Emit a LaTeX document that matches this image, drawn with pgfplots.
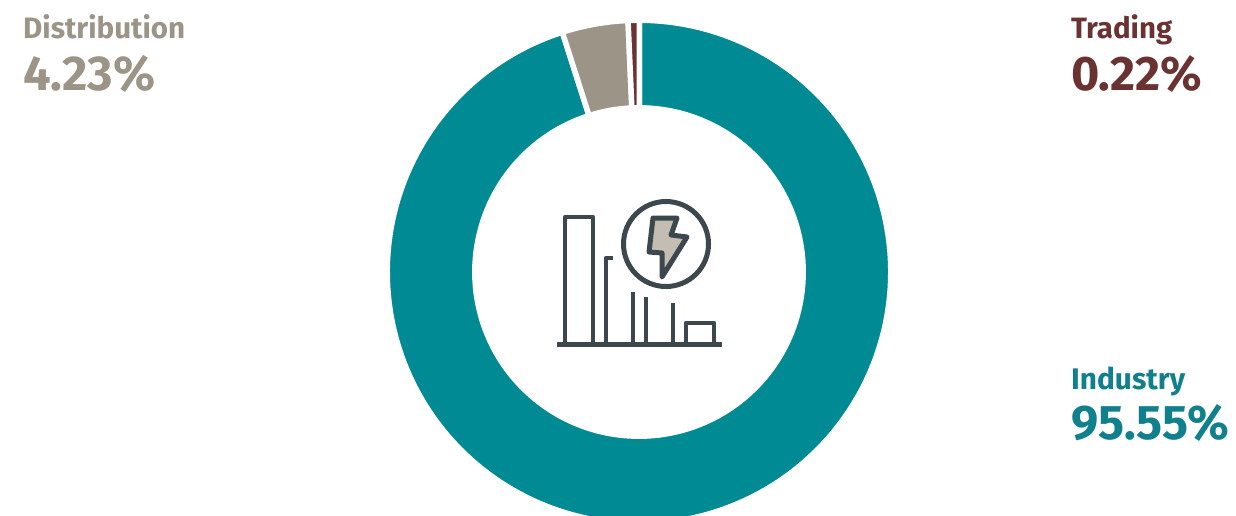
\documentclass[border=0pt]{standalone}
\usepackage{pgfplots}
\usepackage{pgfplotstable}
\usepackage{fontspec}
\pgfplotsset{compat=1.18}
\setmainfont{Fira Sans}
\newfontfamily\headfont[LetterSpace=0,Numbers=Lining]{Fira Sans}

\definecolor{industry}{HTML}{008A94}
\definecolor{industrytext}{HTML}{0F808C}
\definecolor{distribution}{HTML}{9C9486}
\definecolor{trading}{HTML}{6B3232}
\definecolor{icondark}{HTML}{3C474E}
\definecolor{iconfill}{HTML}{C4BDB2}

% Share of each segment, in drawing order (clockwise from the top)
\pgfplotstableread[col sep=space]{
name         value
industry     95.55
distribution 4.23
trading      0.22
}\sharetable

% Ring geometry, in canvas units; the white outline trims it by half its width
\def\cx{639}\def\cy{272}
\def\rout{251.8}\def\rin{164.2}
\def\gapwidth{5.5}
\def\startangle{0.1}
% Smallest sweep a segment may have; the largest segment gives up the difference
\def\minsweep{2.6}

% Fills the ring segment that starts at #2 degrees and sweeps #3 degrees
\newcommand\ringsegment[3]{%
  \pgfmathtruncatemacro\nsteps{ceil(#3/2)}%
  \pgfmathsetmacro\stepang{#3/\nsteps}%
  \gdef\ringpts{}%
  \foreach \i in {0,...,\nsteps}{%
    \pgfmathsetmacro\ang{#2+\stepang*\i}%
    \pgfmathsetmacro\px{\cx+\rout*sin(\ang)}%
    \pgfmathsetmacro\py{\cy-\rout*cos(\ang)}%
    \xdef\ringpts{\ringpts (\px,\py)}%
  }%
  \foreach \i in {\nsteps,...,0}{%
    \pgfmathsetmacro\ang{#2+\stepang*\i}%
    \pgfmathsetmacro\px{\cx+\rin*sin(\ang)}%
    \pgfmathsetmacro\py{\cy-\rin*cos(\ang)}%
    \xdef\ringpts{\ringpts (\px,\py)}%
  }%
  \edef\segcmd{\noexpand\addplot[mark=none,fill=#1,draw=white,line width=\gapwidth pt,line join=round]
    coordinates {\ringpts} -- cycle;}%
  \segcmd
}

% Label set to a fixed width so that every line ends where it should
\newcommand\seglabel[6]{% x, baseline, width, colour, size, text
  \node[anchor=base west,inner sep=0pt,text=#4] at (#1,#2)
    {\resizebox{#3pt}{!}{\headfont\bfseries\fontsize{#5}{#5}\selectfont #6}};%
}

\begin{document}
\begin{tikzpicture}
\begin{axis}[
  scale only axis, width=1236pt, height=515pt,
  xmin=0, xmax=1236, ymin=0, ymax=515, y dir=reverse,
  hide axis, clip=true,
]
  \pgfplotstablegetelem{0}{value}\of\sharetable \let\vone\pgfplotsretval
  \pgfplotstablegetelem{1}{value}\of\sharetable \let\vtwo\pgfplotsretval
  \pgfplotstablegetelem{2}{value}\of\sharetable \let\vthree\pgfplotsretval
  \pgfmathsetmacro\sthree{max(\vthree*3.6,\minsweep)}
  \pgfmathsetmacro\stwo{\vtwo*3.6}
  \pgfmathsetmacro\sone{\vone*3.6-(\sthree-\vthree*3.6)}
  \pgfmathsetmacro\atwo{\startangle+\sone}
  \pgfmathsetmacro\athree{\atwo+\stwo}
  \ringsegment{industry}{\startangle}{\sone}
  \ringsegment{distribution}{\atwo}{\stwo}
  \ringsegment{trading}{\athree}{\sthree}

  % Centre icon: factory-like bars and a lightning bolt in a circle
  \begin{scope}[draw=icondark, line width=4.8pt, line join=round]
    \draw[line width=5pt] (557,344) -- (722,344);
    \draw (565,344) -- (565,217) -- (593,217) -- (593,344);
    \draw (606,344) -- (606,258) -- (613,258);
    \draw (633,344) -- (633,292);
    \draw (646,344) -- (646,297);
    \draw (673,344) -- (673,303);
    \draw (686,344) -- (686,323) -- (714,323) -- (714,344);
    \draw[line width=5pt] (666,244) circle[radius=42.5pt];
    \draw[fill=iconfill,line width=5pt] (653,218) -- (677,218) -- (671,235) -- (687,237)
      -- (662,277) -- (662,253) -- (649,252) -- cycle;
  \end{scope}

  % Segment labels
  \seglabel{23}{38}{162}{distribution}{29}{Distribution}
  \seglabel{23}{90}{132}{distribution}{46}{4.23\%}
  \seglabel{1071}{38}{101}{trading}{29}{Trading}
  \seglabel{1071}{90}{131}{trading}{46}{0.22\%}
  \seglabel{1071}{389}{114}{industrytext}{29}{Industry}
  \seglabel{1071}{439}{158}{industrytext}{46}{95.55\%}
\end{axis}
\useasboundingbox (0,0) rectangle (1236pt,515pt);
\end{tikzpicture}
\end{document}
